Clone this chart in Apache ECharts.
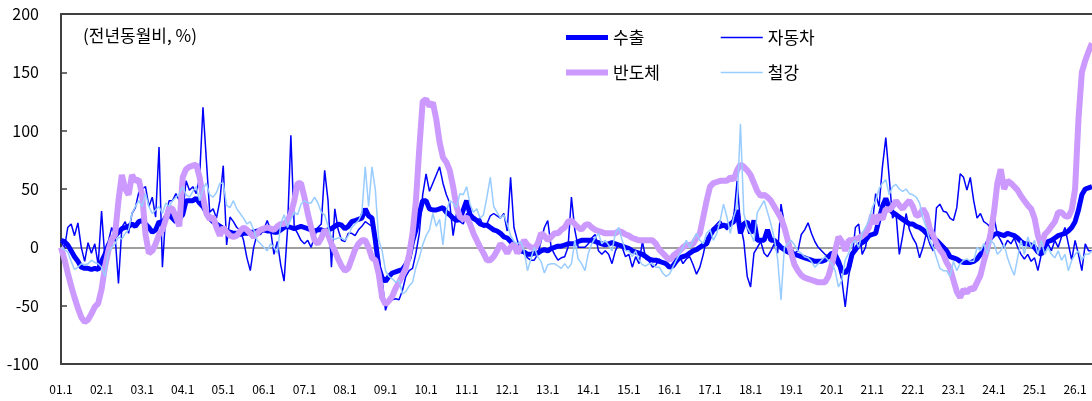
<!DOCTYPE html>
<html><head><meta charset="utf-8">
<script src="https://cdn.jsdelivr.net/npm/echarts@6/dist/echarts.min.js"></script>
<style>html,body{margin:0;padding:0;background:#fff}#c{width:1092px;height:401px}</style>
</head><body><div id="c"></div>
<script>
const startYear = 2001, endYear = 2026, endMonth = 6;
const yTicks = [-100, -50, 0, 50, 100, 150, 200];
const seriesNames = ['수출', '자동차', '반도체', '철강'];

const exportData = [
 6,5,2,-3,-8,-12,-17,-18,-18,-19,-18,-19,
 -12,-6,2,6,10,13,16,17,18,20,18,22,
 23,20,17,13,15,22,20,26,28,25,22,25,
 28,40,40,40,42,38,35,30,25,22,20,18,
 16,14,13,12,12,11,12,12,13,13,14,14,
 15,14,14,13,13,15,17,18,17,16,17,18,
 17,16,15,14,15,15,14,15,16,18,20,19,
 16,18,22,23,24,25,33,27,25,6,-17,-26,
 -29,-25,-22,-21,-20,-19,-15,-9,5,15,29,40,
 40,33,32,32,33,34,30,28,25,23,24,32,
 40,28,25,23,20,19,19,17,15,14,12,9,
 8,5,2,-2,-3,-4,-6,-6,-5,-5,-3,-2,
 -3,-1,0,1,1,2,3,3,3,5,6,6,
 6,6,5,4,3,2,3,4,3,2,1,0,
 -1,-3,-4,-5,-6,-8,-10,-11,-11,-12,-13,-14,
 -17,-16,-12,-9,-8,-7,-5,-3,-2,0,2,3,
 10,15,17,18,19,18,20,22,32,12,20,22,
 12,23,6,6,6,15,6,6,3,0,-2,-4,
 -5,-6,-7,-8,-9,-10,-11,-12,-12,-12,-11,-8,
 -5,-6,-12,-20,-22,-18,-6,-2,2,4,6,10,
 11,12,24,35,42,34,30,28,26,24,22,20,
 20,18,17,15,12,10,8,6,3,0,-3,-8,
 -9,-10,-12,-13,-13,-13,-12,-10,-6,-3,3,8,
 11,12,11,10,12,11,10,8,5,3,3,2,
 0,-4,-6,2,5,6,8,10,11,12,14,17,
 22,32,45,50,51,52
];

const autoData = [
 6,-1,17,20,10,21,0,-12,4,-5,3,-15,
 31,-10,5,17,10,-31,17,22,12,29,34,47,
 50,52,35,43,26,86,-17,29,40,40,46,40,
 29,57,49,52,46,60,120,75,30,33,25,40,
 70,2,26,22,17,15,6,-9,-20,0,11,11,
 15,23,15,-6,5,-15,-29,15,96,17,12,6,
 3,6,0,9,17,20,66,40,-17,33,15,6,
 5,12,12,10,15,18,22,20,18,10,-8,-28,
 -54,-45,-45,-44,-45,-37,-25,-20,-18,-5,12,45,
 63,48,55,62,69,55,45,38,10,29,22,20,
 29,26,23,23,25,17,20,27,29,27,25,29,
 14,60,17,6,-3,-5,-9,-11,-11,-6,5,17,
 23,0,-6,-11,-9,-8,0,43,15,0,0,0,
 3,8,11,-3,-6,-3,-6,-14,-3,3,0,-8,
 -6,-17,-8,-14,5,-10,-12,-17,-15,-10,-13,-15,
 -9,-5,-12,-8,-14,-10,-8,-15,-23,-17,-6,8,
 12,17,20,23,18,15,20,25,57,20,5,-25,
 -34,-5,0,5,-5,-8,-3,3,-5,37,20,10,
 0,-5,-3,11,15,21,12,5,0,-3,-6,-8,
 -10,-12,-17,-28,-51,-25,-10,17,20,-6,0,17,
 20,46,35,69,94,60,25,30,-6,10,29,15,
 8,3,-9,0,12,3,-3,34,37,31,30,25,
 23,34,63,60,49,60,40,25,29,22,20,17,
 26,11,6,0,6,3,8,0,-6,-10,-6,-12,
 -9,-20,-6,-3,3,-3,6,0,9,17,3,-11,
 6,-6,-20,3,-3,-3
];

const chipData = [
 0,-10,-22,-33,-43,-52,-60,-64,-62,-57,-51,-48,
 -36,-17,-3,7,11,40,62,50,45,62,57,58,
 45,11,-5,-3,3,11,15,24,34,33,26,18,
 60,67,69,70,71,60,43,29,24,26,17,10,
 17,13,10,9,10,14,17,15,12,9,12,15,
 16,17,16,15,18,20,20,23,29,40,55,55,
 43,29,17,6,3,8,15,11,3,-3,-10,-16,
 -20,-18,-10,-2,3,6,6,0,-9,-11,-23,-43,
 -49,-46,-42,-35,-30,-24,-18,-6,12,40,85,125,
 127,121,124,110,90,77,73,66,52,35,26,24,
 26,20,12,6,0,-5,-11,-11,-8,-3,3,0,
 -5,0,3,-5,0,6,2,0,-1,3,12,10,
 6,9,12,12,15,17,22,23,20,17,15,19,
 20,17,15,14,13,12,12,12,12,14,13,11,
 10,8,7,6,6,6,6,6,3,-2,-5,-8,
 -11,-8,-5,-3,0,2,2,3,8,12,26,40,
 52,55,56,57,57,57,60,58,66,71,69,66,
 62,55,48,44,45,43,40,35,30,25,17,6,
 -5,-15,-20,-24,-26,-27,-28,-29,-30,-30,-30,-25,
 -15,-3,9,5,-3,6,6,7,8,10,12,17,
 28,20,28,24,33,32,35,40,36,33,37,40,
 35,27,28,33,28,16,10,3,-2,-6,-13,-18,
 -28,-38,-43,-36,-39,-35,-36,-30,-24,-12,-2,12,
 30,55,67,50,57,55,52,49,44,40,36,33,
 25,10,1,11,14,18,22,30,30,27,26,32,
 50,110,150,160,168,175
];

const steelData = [
 0,-2,-4,-12,-19,-17,-14,-15,-14,-11,-13,-14,
 -17,-25,-5,0,3,9,7,12,15,29,35,40,
 35,46,35,29,32,35,29,38,35,40,43,46,
 52,45,43,48,52,40,50,55,45,43,47,55,
 55,36,34,40,33,29,25,20,22,15,6,3,
 0,-3,3,0,-5,20,28,17,24,30,28,37,
 40,38,38,43,38,30,28,18,8,7,8,8,
 6,10,17,20,23,29,69,35,69,49,6,-3,
 -20,-25,-27,-30,-28,-40,-38,-33,-30,-17,-9,2,
 10,15,29,18,24,2,31,40,38,34,46,45,
 52,37,30,33,25,28,43,60,35,30,25,28,
 20,10,5,3,5,-3,-20,-10,0,-8,-12,-22,
 -15,-14,-14,-16,-18,-14,-18,-14,6,-10,-14,-20,
 -5,3,8,12,3,6,2,-3,12,17,6,-3,
 -3,-8,-3,-11,-15,-16,-14,-14,-17,-17,-22,-25,
 -23,-17,-11,-6,0,6,0,6,12,6,3,12,
 15,6,12,23,37,26,12,26,35,106,29,17,
 12,5,30,35,40,30,20,8,-10,-45,0,3,
 6,2,-3,-5,-8,-9,-12,-17,-14,-11,-8,-11,
 -14,-20,-34,-28,-11,-5,3,6,0,12,17,23,
 34,40,50,55,58,45,52,54,50,48,50,46,
 45,43,38,25,17,6,0,-9,-18,-20,-20,-25,
 -12,-20,-14,-11,-10,-12,-12,0,-3,3,-6,6,
 3,-6,-3,3,-9,-17,-24,-9,6,-6,9,0,
 6,-6,6,-6,0,-6,-9,-3,-11,-6,-20,-11,
 -6,-3,-11,-6,-6,-3
];

const categories = [];
for (let y = startYear; y <= endYear; y++) {
  const last = (y === endYear) ? endMonth : 12;
  for (let m = 1; m <= last; m++) categories.push(String(y % 100).padStart(2, '0') + '.' + m);
}

const chart = echarts.init(document.getElementById('c'), null, {renderer: 'canvas'});
const FONT = '"Noto Sans CJK KR", "Noto Sans", sans-serif';
const axisColor = '#404040';
const noSymbol = { color: 'transparent', borderColor: 'transparent', borderWidth: 0, opacity: 0 };
const legendText = { fontSize: 17, color: '#000', fontFamily: FONT };

chart.setOption({
  animation: false,
  backgroundColor: '#ffffff',
  textStyle: { fontFamily: FONT },
  title: {
    text: '(전년동월비, %)', left: 83, top: 27, padding: 0,
    textStyle: { fontSize: 17, fontWeight: 'normal', color: '#000', fontFamily: FONT }
  },
  legend: [
    { data: ['수출', '반도체'], orient: 'vertical', left: 563, top: 29, padding: 0,
      itemWidth: 42, itemHeight: 14, itemGap: 18,
      itemStyle: noSymbol, lineStyle: { width: 'inherit' }, textStyle: legendText },
    { data: ['자동차', '철강'], orient: 'vertical', left: 720, top: 29, padding: 0,
      itemWidth: 42, itemHeight: 14, itemGap: 18,
      itemStyle: noSymbol, lineStyle: { width: 'inherit' }, textStyle: legendText }
  ],
  grid: { left: 61, right: 0, top: 14, bottom: 37, containLabel: false },
  xAxis: [
    { type: 'category', data: categories, boundaryGap: false, position: 'bottom',
      axisLine: { onZero: false, lineStyle: { color: axisColor, width: 2 } },
      axisTick: { show: false },
      axisLabel: { interval: (i) => i % 12 === 0, margin: 19, fontSize: 12, color: '#000', fontFamily: FONT },
      splitLine: { show: false } },
    { type: 'category', data: categories, boundaryGap: false, position: 'top',
      axisLine: { onZero: false, lineStyle: { color: axisColor, width: 2 } },
      axisTick: { show: false }, axisLabel: { show: false }, splitLine: { show: false } },
    { type: 'category', data: categories, boundaryGap: false,
      axisLine: { onZero: true, lineStyle: { color: '#808080', width: 1.5 } },
      axisTick: { show: false }, axisLabel: { show: false }, splitLine: { show: false } }
  ],
  yAxis: {
    type: 'value', min: yTicks[0], max: yTicks[yTicks.length - 1], interval: 50,
    axisLine: { show: true, lineStyle: { color: axisColor, width: 2 } },
    axisTick: { show: true, inside: true, length: 6, lineStyle: { color: axisColor, width: 1.5 } },
    axisLabel: { margin: 22, fontSize: 16, color: '#000', fontFamily: FONT },
    splitLine: { show: false }
  },
  series: [
    { name: '수출', type: 'line', data: exportData, symbol: 'none', z: 3,
      lineStyle: { color: '#0000FF', width: 5 }, itemStyle: { color: '#0000FF' } },
    { name: '자동차', type: 'line', data: autoData, symbol: 'none', z: 4,
      lineStyle: { color: '#0000FF', width: 1.5 }, itemStyle: { color: '#0000FF' } },
    { name: '반도체', type: 'line', data: chipData, symbol: 'none', z: 5,
      lineStyle: { color: '#CC99FF', width: 6 }, itemStyle: { color: '#CC99FF' } },
    { name: '철강', type: 'line', data: steelData, symbol: 'none', z: 6,
      lineStyle: { color: '#99CCFF', width: 1.5 }, itemStyle: { color: '#99CCFF' } }
  ]
});
</script>
</body></html>
